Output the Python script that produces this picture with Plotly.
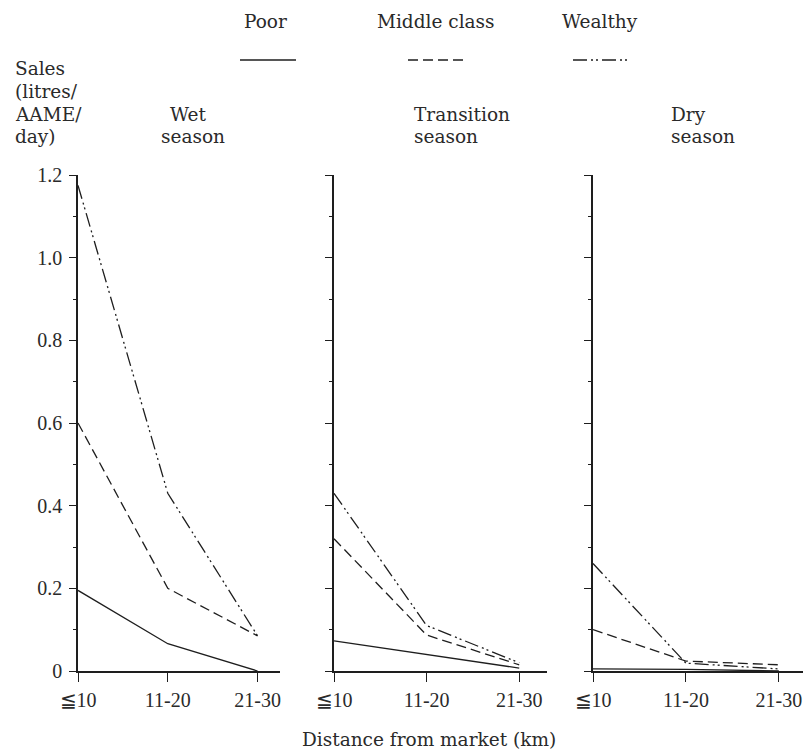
import plotly.graph_objects as go

# ---------------- data ----------------
distance = ["≦10", "11-20", "21-30"]
seasons = ["Wet<br>season", "Transition<br>season", "Dry<br>season"]
groups = ["Poor", "Middle class", "Wealthy"]

wet_poor = [0.195, 0.066, 0.0]
wet_middle = [0.60, 0.20, 0.085]
wet_wealthy = [1.175, 0.43, 0.085]

trans_poor = [0.073, 0.040, 0.007]
trans_middle = [0.32, 0.087, 0.015]
trans_wealthy = [0.43, 0.11, 0.02]

dry_poor = [0.005, 0.004, 0.0]
dry_middle = [0.10, 0.024, 0.015]
dry_wealthy = [0.26, 0.019, 0.005]

y_ticks = [0, 0.2, 0.4, 0.6, 0.8, 1.0, 1.2]
y_tick_text = ["0", "0.2", "0.4", "0.6", "0.8", "1.0", "1.2"]

# ---------------- style ----------------
W, H = 810, 750
INK = "#1e1e1e"
TXT = "#2a2a2a"
WORD_FONT = "DejaVu Serif"
NUM_FONT = "Liberation Serif"
dash_styles = ["solid", "10px,5px", "14px,4px,2px,3px,2px,4px"]


def px(x):
    return x / W


def py(y):
    return 1 - y / H


panels = [
    (wet_poor, wet_middle, wet_wealthy),
    (trans_poor, trans_middle, trans_wealthy),
    (dry_poor, dry_middle, dry_wealthy),
]
x_domains = [(78, 280), (334, 547), (593, 803)]
x_range_end = [2.25, 2.30, 2.26]
y_domain = [py(671), py(175)]

fig = go.Figure()

for i, series in enumerate(panels):
    xa = "x" if i == 0 else f"x{i+1}"
    ya = "y" if i == 0 else f"y{i+1}"
    for g, vals in enumerate(series):
        fig.add_trace(go.Scatter(
            x=list(range(len(distance))), y=vals, mode="lines",
            xaxis=xa, yaxis=ya, name=groups[g], showlegend=False,
            line=dict(color=INK, width=1.3, dash=dash_styles[g]),
            hoverinfo="skip",
        ))
    xkey = "xaxis" if i == 0 else f"xaxis{i+1}"
    ykey = "yaxis" if i == 0 else f"yaxis{i+1}"
    d0, d1 = x_domains[i]
    fig.layout[xkey] = dict(
        domain=[px(d0), px(d1)], anchor=ya, range=[0, x_range_end[i]],
        tickvals=list(range(len(distance))), ticktext=distance,
        showline=True, linecolor=INK, linewidth=1.6,
        ticks="outside", ticklen=9, tickwidth=1.4, tickcolor=INK,
        showgrid=False, zeroline=False, automargin=False,
        tickfont=dict(family=NUM_FONT, size=20, color=TXT),
        ticklabelstandoff=1,
    )
    fig.layout[ykey] = dict(
        domain=y_domain, anchor=xa, range=[0, 1.2],
        tickvals=y_ticks, ticktext=y_tick_text,
        showticklabels=(i == 0),
        showline=True, linecolor=INK, linewidth=1.6,
        ticks="outside", ticklen=7, tickwidth=1.4, tickcolor=INK,
        minor=dict(dtick=0.1, tick0=0, ticks="outside", ticklen=3, tickwidth=1.2, tickcolor=INK),
        showgrid=False, zeroline=False, automargin=False,
        tickfont=dict(family=NUM_FONT, size=20, color=TXT),
        ticklabelstandoff=3,
    )

annotations = []


def add_text(text, x, y, anchor="left", size=18.5, family=WORD_FONT):
    annotations.append(dict(
        text=text, x=px(x), y=py(y), xref="paper", yref="paper",
        xanchor=anchor, yanchor="middle", showarrow=False,
        font=dict(family=family, size=size, color=TXT),
    ))


# legend header
legend_text_x = [242, 375, 560]
legend_line_x = [(240, 296), (408, 467), (573, 627)]
for g, name in enumerate(groups):
    add_text(name, legend_text_x[g], 22)

shapes = []
for g in range(len(groups)):
    x0, x1 = legend_line_x[g]
    shapes.append(dict(
        type="line", xref="paper", yref="paper",
        x0=px(x0), x1=px(x1), y0=py(60), y1=py(60),
        line=dict(color=INK, width=1.3, dash=dash_styles[g]),
    ))

# y-axis title
for k, line in enumerate(["Sales", "(litres/", "AAME/", "day)"]):
    add_text(line, 13, 69 + k * 22.5)

# season titles
season_x = [(168, 159), (412, 412), (669, 669)]
for i, s in enumerate(seasons):
    top, bottom = s.split("<br>")
    add_text(top, season_x[i][0], 114)
    add_text(bottom, season_x[i][1], 137)

# x-axis title
add_text("Distance from market (km)", 300, 739)

fig.update_layout(
    width=W, height=H, margin=dict(l=0, r=0, t=0, b=0, autoexpand=False),
    paper_bgcolor="white", plot_bgcolor="white",
    annotations=annotations, shapes=shapes, showlegend=False,
)

fig.write_html("out.html")
